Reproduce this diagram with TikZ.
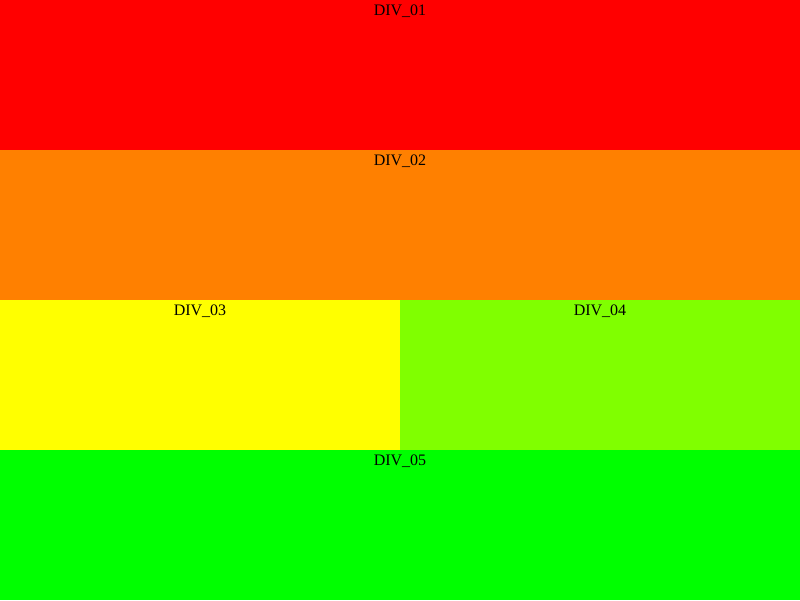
\documentclass[tikz,border=0pt]{standalone}
\usepackage{fontspec}
\setmainfont{Liberation Serif}
\definecolor{cA}{HTML}{FF0000}
\definecolor{cB}{HTML}{FF8000}
\definecolor{cC}{HTML}{FFFF00}
\definecolor{cD}{HTML}{80FF00}
\definecolor{cE}{HTML}{00FF00}
\begin{document}
\begin{tikzpicture}[x=1pt,y=1pt,
  lbl/.style={anchor=base,inner sep=0pt,font=\fontsize{16}{19}\selectfont}]
\useasboundingbox (0,0) rectangle (800,-600);
\fill[cA] (0,0) rectangle (800,-150);
\fill[cB] (0,-150) rectangle (800,-300);
\fill[cC] (0,-300) rectangle (400,-450);
\fill[cD] (400,-300) rectangle (800,-450);
\fill[cE] (0,-450) rectangle (800,-600);
\node[lbl] (d1) at (400,-15) {DIV\_01};
\node[lbl] (d2) at (400,-165) {DIV\_02};
\node[lbl] (d3) at (200,-315) {DIV\_03};
\node[lbl] (d4) at (600,-315) {DIV\_04};
\node[lbl] (d5) at (400,-465) {DIV\_05};
\end{tikzpicture}
\end{document}
